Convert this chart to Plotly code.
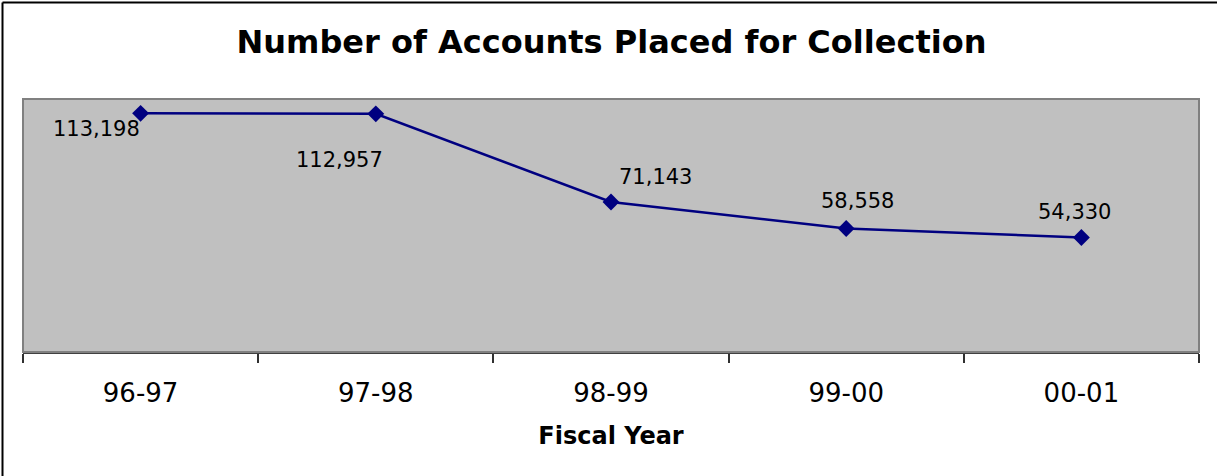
import plotly.graph_objects as go

# Accounts placed for collection, by fiscal year
fiscal_years = ["96-97", "97-98", "98-99", "99-00", "00-01"]
accounts = [113198, 112957, 71143, 58558, 54330]

# Pixel offsets of each value label from its marker (x right, y up)
label_dx = [-44, -36, 44, 11, -7]
label_dy = [-16, -46, 25, 28, 25]

W, H = 1217, 476
L, R, T, B = 23, 18, 99, 124
pw, ph = W - L - R, H - T - B

fig = go.Figure()
fig.add_trace(go.Scatter(
    x=fiscal_years, y=accounts, mode="lines+markers",
    line=dict(color="#000080", width=2.5),
    marker=dict(symbol="diamond", size=13, color="#000080"),
    hoverinfo="x+y", showlegend=False,
))

for xv, yv, dx, dy in zip(fiscal_years, accounts, label_dx, label_dy):
    fig.add_annotation(
        x=xv, y=yv, text=f"{yv:,}", showarrow=False,
        xshift=dx, yshift=dy,
        font=dict(family="DejaVu Sans", size=21, color="#000000"),
    )

# Plot area frame in gray
fig.add_shape(type="rect", xref="paper", yref="paper", x0=0, x1=1, y0=0, y1=1,
              line=dict(color="#808080", width=2), layer="above")
# Outer chart border along the top and left edges
fig.add_shape(type="line", xref="paper", yref="paper",
              x0=(2.5 - L) / pw, x1=(W - L) / pw,
              y0=1 + (T - 2.5) / ph, y1=1 + (T - 2.5) / ph,
              line=dict(color="#000000", width=2))
fig.add_shape(type="line", xref="paper", yref="paper",
              x0=(2.5 - L) / pw, x1=(2.5 - L) / pw,
              y0=1 + (T - 2.5) / ph, y1=-(H - T - ph) / ph,
              line=dict(color="#000000", width=2))

fig.update_layout(
    width=W, height=H,
    margin=dict(l=L, r=R, t=T, b=B),
    paper_bgcolor="#FFFFFF", plot_bgcolor="#C0C0C0",
    title=dict(text="Number of Accounts Placed for Collection",
               x=(233 + 990) / 2 / W, xanchor="center", y=1 - 42 / H, yanchor="middle",
               font=dict(family="DejaVu Sans", size=32, color="#000000", weight="bold")),
    xaxis=dict(
        type="category", range=[-0.5, 4.5], tickson="boundaries",
        ticks="outside", ticklen=9, tickwidth=2, tickcolor="#303030",
        ticklabelstandoff=17,
        showline=True, linecolor="#404040", linewidth=2,
        showgrid=False, zeroline=False,
        tickfont=dict(family="DejaVu Sans", size=26, color="#000000"),
        title=dict(text="Fiscal Year", standoff=20,
                   font=dict(family="DejaVu Sans", size=24, color="#000000", weight="bold")),
    ),
    yaxis=dict(range=[0, 120000], showticklabels=False, showgrid=False,
               zeroline=False, ticks=""),
)

fig.write_html("out.html")
